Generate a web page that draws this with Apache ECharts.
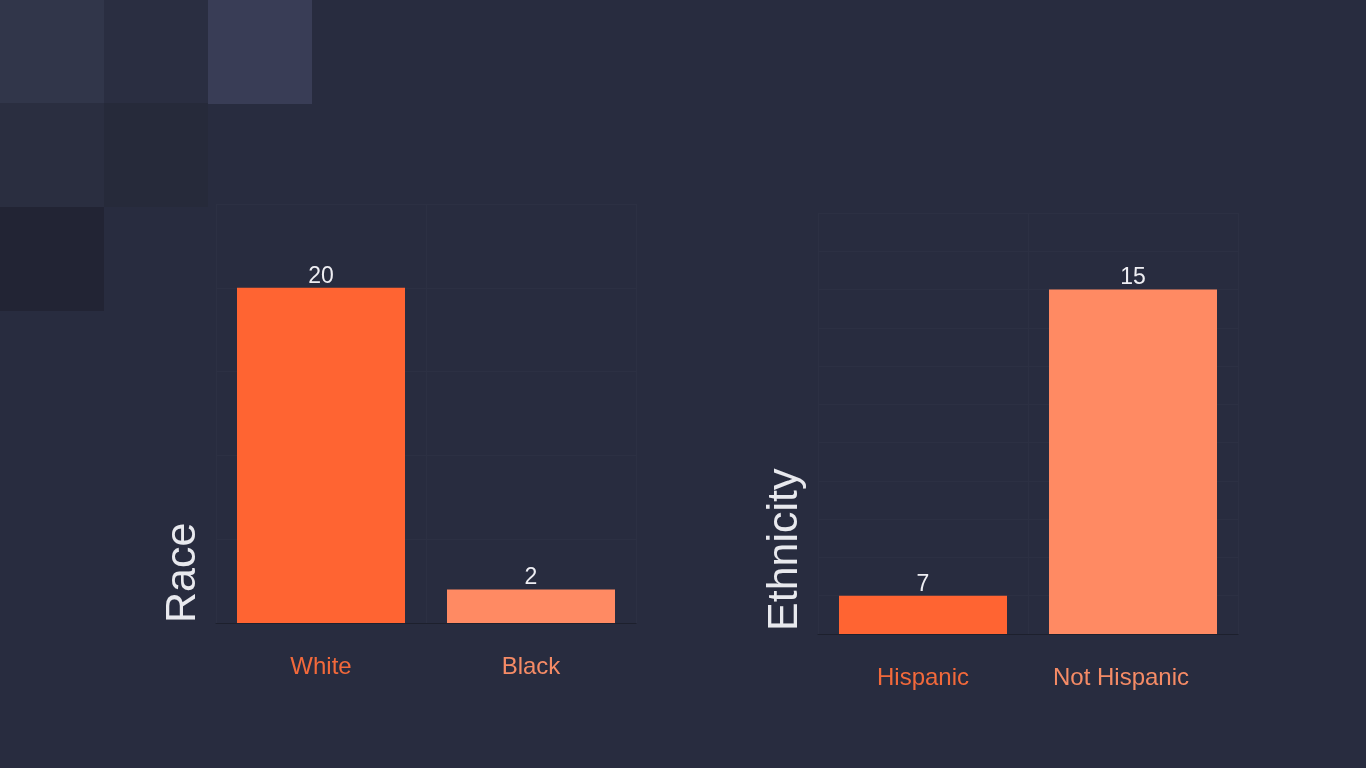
<!DOCTYPE html>
<html>
<head>
<meta charset="utf-8">
<script src="https://cdn.jsdelivr.net/npm/echarts@6/dist/echarts.min.js"></script>
<style>
html,body{margin:0;padding:0;background:#282c3f;}
#chart{width:1366px;height:768px;}
</style>
</head>
<body>
<div id="chart"></div>
<script>
const raceCategories = ['White', 'Black'];
const raceValues = [20, 2];
const ethnicityCategories = ['Hispanic', 'Not Hispanic'];
const ethnicityValues = [7, 15];
const raceAxisTitle = 'Race';
const ethnicityAxisTitle = 'Ethnicity';

const barColors = ['#ff6432', '#ff8a63'];
const catLabelColors = ['#f2693b', '#f58b66'];
const FONT = "'Liberation Sans', Arial, sans-serif";
const gridLine = '#2c3043';

function catData(cats, pads) {
  return cats.map((c, i) => ({ value: c, textStyle: { color: catLabelColors[i], padding: pads[i] } }));
}
function barData(vals) {
  return vals.map((v, i) => ({ value: v, itemStyle: { color: barColors[i] } }));
}
function xAxisCfg(gridIndex, cats, pads) {
  return {
    type: 'category', gridIndex, data: catData(cats, pads),
    axisLine: { show: true, lineStyle: { color: '#1d202d', width: 1 } },
    axisTick: { show: false },
    axisLabel: { fontSize: 24, fontFamily: FONT, margin: 32 },
    splitLine: { show: true, lineStyle: { color: gridLine, width: 1 } }
  };
}
function yAxisCfg(gridIndex, name, min, max, interval, gap) {
  return {
    type: 'value', gridIndex, min, max, interval,
    name, nameLocation: 'start', nameGap: gap, nameRotate: 90,
    nameTextStyle: { fontSize: 43, fontFamily: FONT, color: '#e8e9ee', align: 'left', verticalAlign: 'bottom', padding: [0, 0, 11, 0] },
    axisLine: { show: false }, axisTick: { show: false }, axisLabel: { show: false },
    splitLine: { show: true, lineStyle: { color: gridLine, width: 1 } }
  };
}
function seriesCfg(idx, vals) {
  return {
    type: 'bar', xAxisIndex: idx, yAxisIndex: idx, data: barData(vals),
    barCategoryGap: '20%', clip: true,
    label: { show: true, position: 'top', distance: 0, color: '#eeeef3', fontSize: 23, fontFamily: FONT },
    emphasis: { disabled: true }
  };
}

const squares = [
  [0, 0, '#31364a'], [104, 0, '#2a2e41'], [208, 0, '#393d56'],
  [0, 103, '#2a2e40'], [104, 103, '#262a3a'],
  [0, 207, '#222434']
];

const chart = echarts.init(document.getElementById('chart'), null, { renderer: 'canvas' });
chart.setOption({
  backgroundColor: '#282c3f',
  animation: false,
  textStyle: { fontFamily: FONT },
  graphic: squares.map(s => ({
    type: 'rect', left: s[0], top: s[1], z: -10, silent: true,
    shape: { width: 104, height: 104 }, style: { fill: s[2] }
  })),
  grid: [
    { left: 216, top: 204, width: 420, height: 419 },
    { left: 818, top: 213, width: 420, height: 421 }
  ],
  xAxis: [xAxisCfg(0, raceCategories, [0, 0]), xAxisCfg(1, ethnicityCategories, [0, [0, 24, 0, 0]])],
  yAxis: [yAxisCfg(0, raceAxisTitle, 0, 25, 5, 0), yAxisCfg(1, ethnicityAxisTitle, 6, 17, 1, -3)],
  series: [seriesCfg(0, raceValues), seriesCfg(1, ethnicityValues)]
});
</script>
</body>
</html>
